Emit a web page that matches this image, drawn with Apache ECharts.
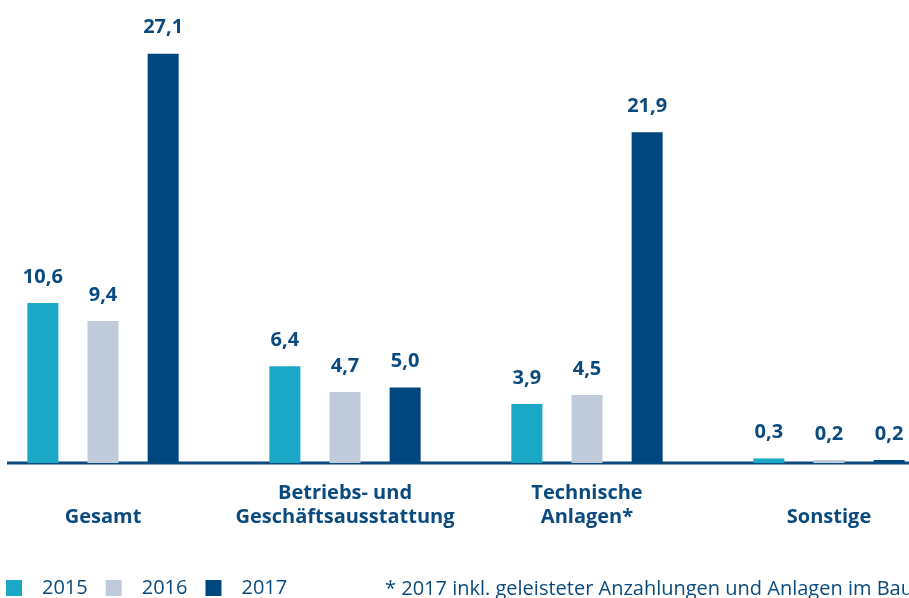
<!DOCTYPE html>
<html>
<head>
<meta charset="utf-8">
<script src="https://cdn.jsdelivr.net/npm/echarts@6/dist/echarts.min.js"></script>
<style>
  html, body { margin: 0; padding: 0; background: #fff; overflow: hidden; }
  body { width: 909px; height: 598px; position: relative; }
  /* Zeichenfläche etwas breiter, damit die Kategorien wie im Original verteilt sind */
  #chart { position: absolute; left: -18px; top: 0; width: 968px; height: 598px; }
</style>
</head>
<body>
<div id="chart"></div>
<script>
// Kategorien und Werte (Mio. €)
const categories = ['Gesamt', 'Betriebs- und\nGeschäftsausstattung', 'Technische\nAnlagen*', 'Sonstige'];
const years = ['2015', '2016', '2017'];
const values2015 = [10.6, 6.4, 3.9, 0.3];
const values2016 = [9.4, 4.7, 4.5, 0.2];
const values2017 = [27.1, 5.0, 21.9, 0.2];
const footnote = '* 2017 inkl. geleisteter Anzahlungen und Anlagen im Bau';

const colors = ['#1ba8c7', '#bfcbdb', '#00467f'];
const textColor = '#0b4a7e';
const fontFamily = '"Open Sans", "Noto Sans", sans-serif';
const offsetX = 18; // Verschiebung des Containers

const chart = echarts.init(document.getElementById('chart'));

function makeSeries(name, data, color) {
  return {
    name: name,
    type: 'bar',
    data: data,
    barWidth: 31,
    barGap: '94%',
    itemStyle: { color: color },
    label: {
      show: true,
      position: 'top',
      distance: 16,
      color: textColor,
      fontFamily: fontFamily,
      fontWeight: 'bold',
      fontSize: 20,
      formatter: p => p.value.toFixed(1).replace('.', ',')
    }
  };
}

const option = {
  animation: false,
  color: colors,
  grid: { left: 0, right: 0, top: 10, bottom: 135 },
  legend: {
    left: 6 + offsetX,
    top: 578,
    padding: 0,
    itemWidth: 16,
    itemHeight: 16,
    itemGap: 18,
    icon: 'rect',
    textStyle: { color: textColor, fontFamily: fontFamily, fontSize: 20, padding: [0, 0, 0, 15] },
    data: years
  },
  xAxis: {
    type: 'category',
    data: categories,
    axisLine: { show: false },
    axisTick: { show: false },
    axisLabel: {
      interval: 0,
      margin: 66,
      verticalAlign: 'bottom',
      lineHeight: 24,
      color: textColor,
      fontFamily: fontFamily,
      fontWeight: 'bold',
      fontSize: 20
    }
  },
  yAxis: {
    type: 'value',
    min: 0,
    max: 30,
    show: false,
    splitLine: { show: false }
  },
  graphic: [
    {
      type: 'line',
      shape: { x1: 7 + offsetX, y1: 463, x2: 968, y2: 463 },
      style: { stroke: '#0b4a7e', lineWidth: 3 }
    },
    {
      type: 'text',
      left: 385 + offsetX,
      top: 579,
      style: { text: footnote, fill: textColor, font: '20px ' + fontFamily }
    }
  ],
  series: [
    makeSeries(years[0], values2015, colors[0]),
    makeSeries(years[1], values2016, colors[1]),
    makeSeries(years[2], values2017, colors[2])
  ]
};

chart.setOption(option);
</script>
</body>
</html>
